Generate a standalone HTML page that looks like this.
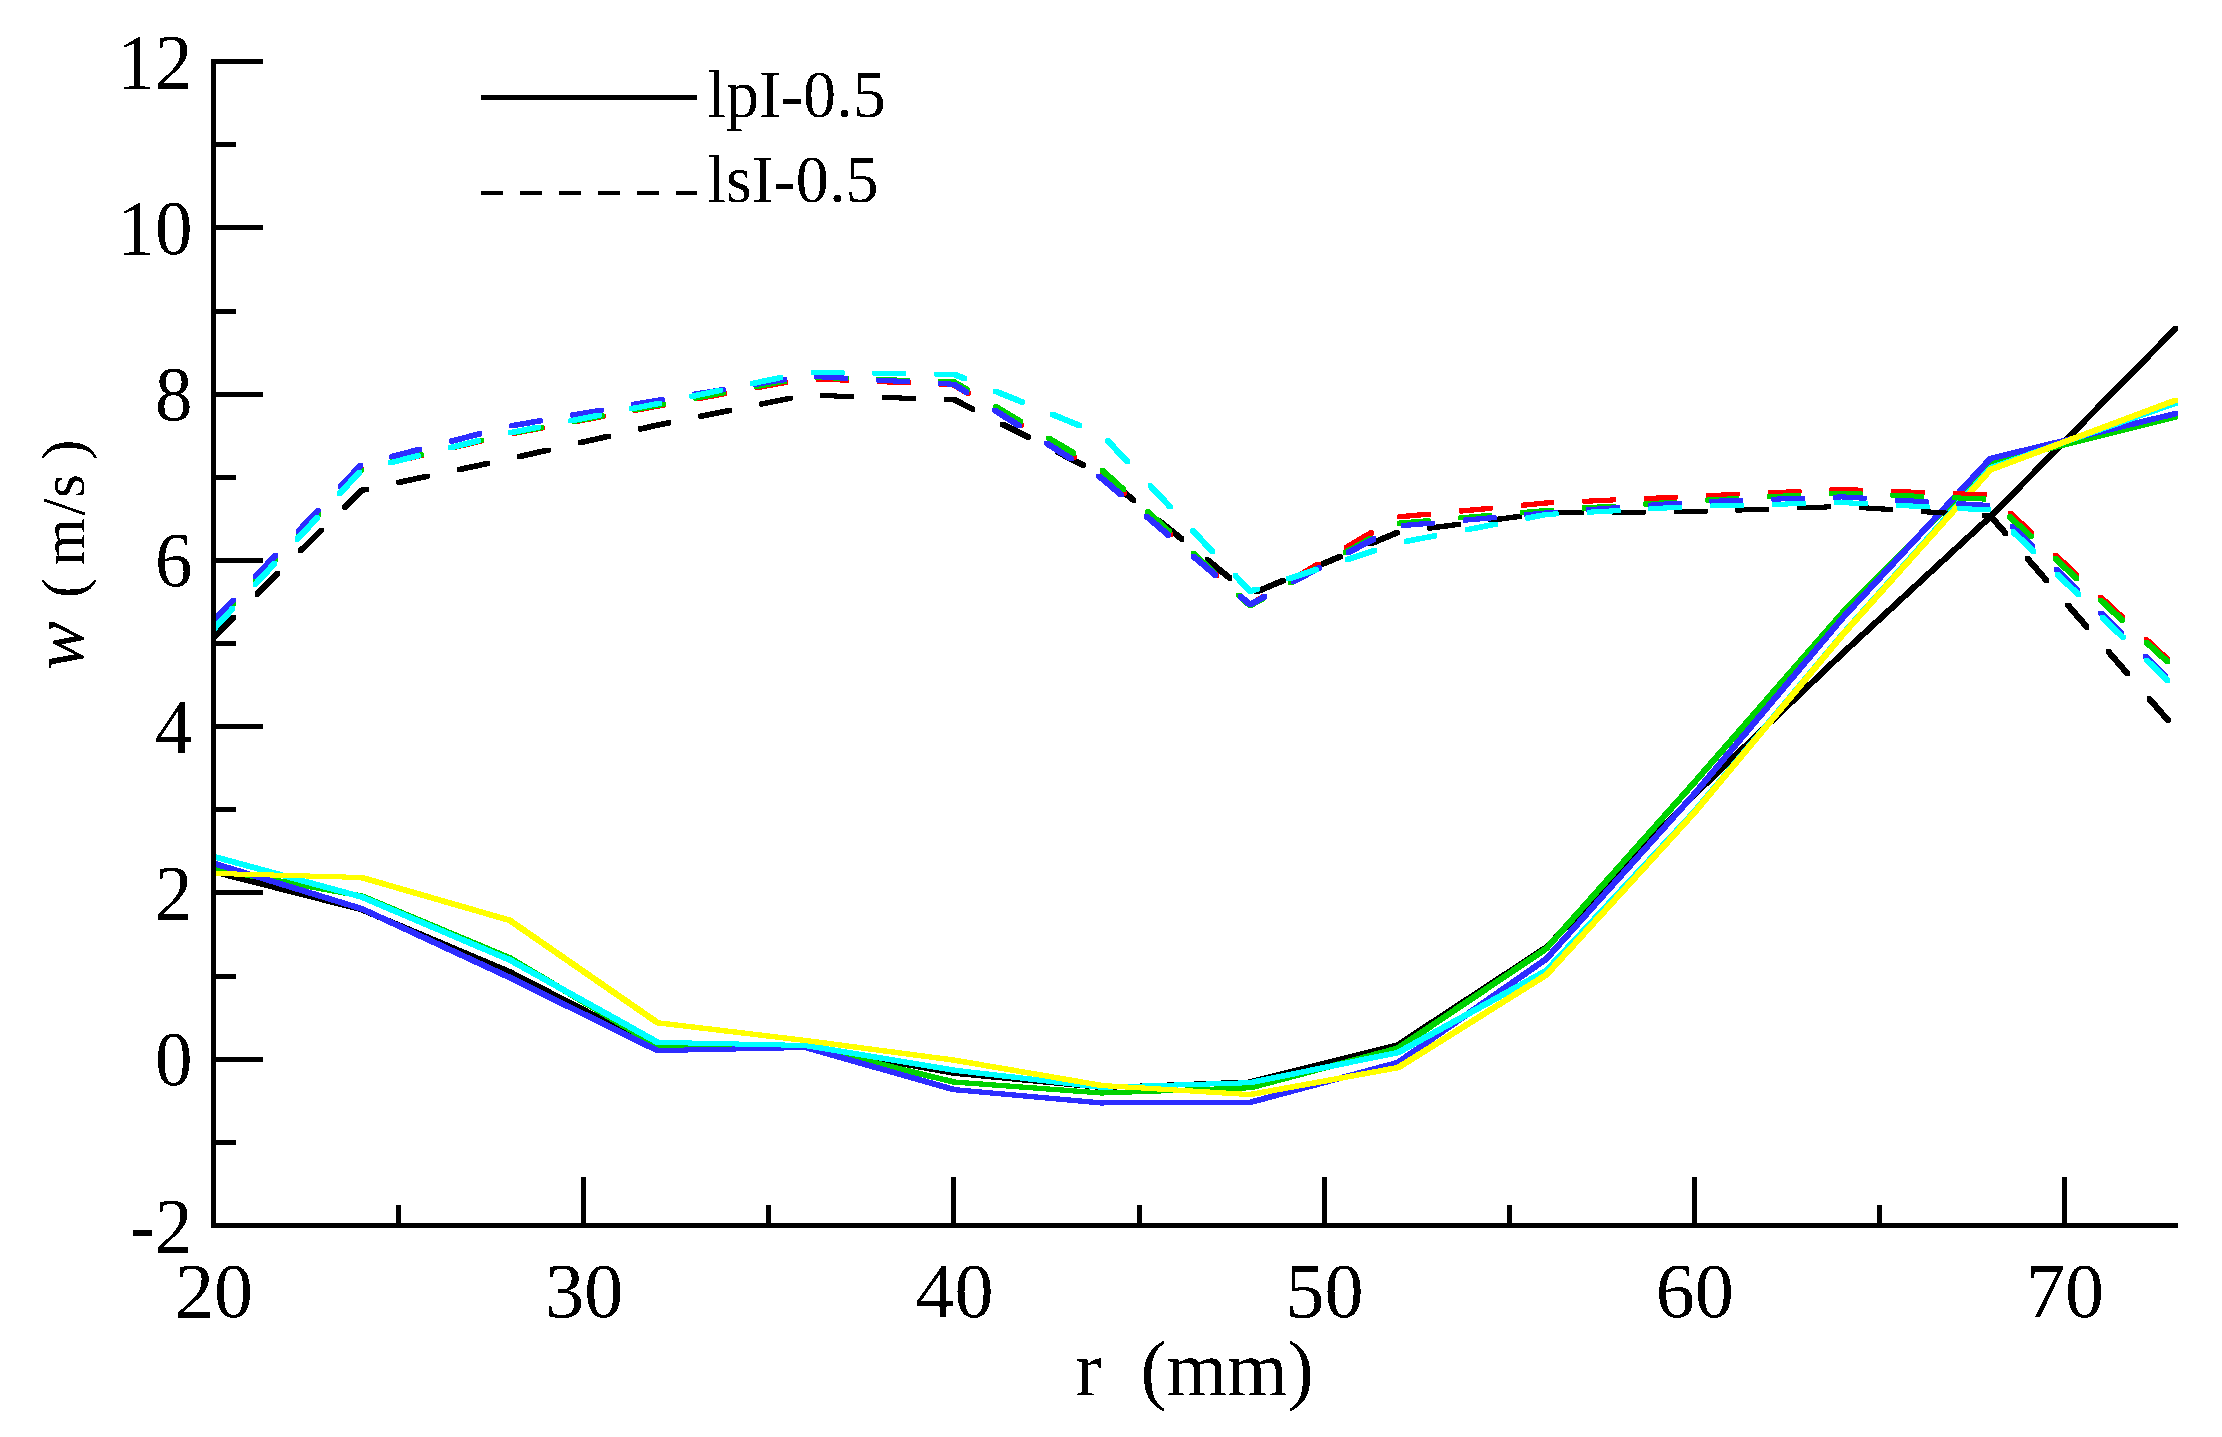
<!DOCTYPE html>
<html lang="en"><head><meta charset="utf-8"><title>w (m/s) vs r (mm)</title>
<style>html,body{margin:0;padding:0;background:#fff;}body{width:2222px;height:1437px;overflow:hidden;}svg{display:block;}text{font-family:"Liberation Serif",serif;fill:#000;}</style>
</head><body>
<svg width="2222" height="1437" viewBox="0 0 2222 1437">
<rect x="0" y="0" width="2222" height="1437" fill="#ffffff"/>
<defs><filter id="bw" x="-10%" y="-10%" width="120%" height="120%"><feComponentTransfer><feFuncA type="discrete" tableValues="0 1"/></feComponentTransfer></filter></defs>
<g stroke="none" shape-rendering="crispEdges">
<path fill="#000000" d="M211.0,869.8 211.6,869.2 215.4,869.2 363.5,907.0 364.1,907.6 364.1,911.4 363.5,912.0 359.7,912.0 211.6,874.2 211.0,873.6ZM359.1,907.6 359.7,907.0 363.5,907.0 511.6,969.5 512.2,970.1 512.2,973.9 511.6,974.5 507.8,974.5 359.7,912.0 359.1,911.4ZM507.2,970.1 507.8,969.5 511.6,969.5 659.6,1045.5 660.2,1046.1 660.2,1049.9 659.6,1050.5 655.8,1050.5 507.8,974.5 507.2,973.9ZM655.2,1046.1 655.8,1045.5 803.9,1043.5 807.7,1043.5 808.3,1044.1 808.3,1047.9 807.7,1048.5 659.6,1050.5 655.8,1050.5 655.2,1049.9ZM803.3,1044.1 803.9,1043.5 807.7,1043.5 955.8,1070.7 956.4,1071.3 956.4,1075.1 955.8,1075.7 952.0,1075.7 803.9,1048.5 803.3,1047.9ZM951.4,1071.3 952.0,1070.7 955.8,1070.7 1103.9,1085.0 1104.5,1085.6 1104.5,1089.4 1103.9,1090.0 1100.1,1090.0 952.0,1075.7 951.4,1075.1ZM1099.5,1085.6 1100.1,1085.0 1248.2,1079.5 1252.0,1079.5 1252.6,1080.1 1252.6,1083.9 1252.0,1084.5 1103.9,1090.0 1100.1,1090.0 1099.5,1089.4ZM1247.6,1080.1 1248.2,1079.5 1396.2,1042.4 1400.0,1042.4 1400.6,1043.0 1400.6,1046.8 1400.0,1047.4 1252.0,1084.5 1248.2,1084.5 1247.6,1083.9ZM1395.6,1043.0 1396.2,1042.4 1544.3,945.0 1548.1,945.0 1548.7,945.6 1548.7,949.4 1548.1,950.0 1400.0,1047.4 1396.2,1047.4 1395.6,1046.8ZM1543.7,945.6 1691.8,792.9 1692.4,792.3 1696.2,792.3 1696.8,792.9 1696.8,796.7 1548.7,949.4 1548.1,950.0 1544.3,950.0 1543.7,949.4ZM1691.8,792.9 1692.4,792.3 1840.5,651.0 1844.3,651.0 1844.9,651.6 1844.9,655.4 1844.3,656.0 1696.2,797.3 1692.4,797.3 1691.8,796.7ZM1839.9,651.6 1840.5,651.0 1988.6,514.1 1992.4,514.1 1993.0,514.7 1993.0,518.5 1992.4,519.1 1844.3,656.0 1840.5,656.0 1839.9,655.4ZM1988.0,514.7 2173.1,326.7 2173.7,326.1 2177.5,326.1 2178.1,326.7 2178.1,330.5 1993.0,518.5 1992.4,519.1 1988.6,519.1 1988.0,518.5Z"/>
<path fill="#ff0000" d="M211.0,867.1 211.6,866.5 215.4,866.5 363.5,893.5 364.1,894.1 364.1,897.9 363.5,898.5 359.7,898.5 211.6,871.5 211.0,870.9ZM359.1,894.1 359.7,893.5 363.5,893.5 511.6,955.5 512.2,956.1 512.2,959.9 511.6,960.5 507.8,960.5 359.7,898.5 359.1,897.9ZM507.2,956.1 507.8,955.5 511.6,955.5 659.6,1043.5 660.2,1044.1 660.2,1047.9 659.6,1048.5 655.8,1048.5 507.8,960.5 507.2,959.9ZM655.2,1044.1 655.8,1043.5 807.7,1043.5 808.3,1044.1 808.3,1047.9 807.7,1048.5 655.8,1048.5 655.2,1047.9ZM803.3,1044.1 803.9,1043.5 807.7,1043.5 955.8,1079.5 956.4,1080.1 956.4,1083.9 955.8,1084.5 952.0,1084.5 803.9,1048.5 803.3,1047.9ZM951.4,1080.1 952.0,1079.5 955.8,1079.5 1103.9,1090.5 1104.5,1091.1 1104.5,1094.9 1103.9,1095.5 1100.1,1095.5 952.0,1084.5 951.4,1083.9ZM1099.5,1091.1 1100.1,1090.5 1248.2,1085.3 1252.0,1085.3 1252.6,1085.9 1252.6,1089.7 1252.0,1090.3 1103.9,1095.5 1100.1,1095.5 1099.5,1094.9ZM1247.6,1085.9 1248.2,1085.3 1396.2,1045.7 1400.0,1045.7 1400.6,1046.3 1400.6,1050.1 1400.0,1050.7 1252.0,1090.3 1248.2,1090.3 1247.6,1089.7ZM1395.6,1046.3 1396.2,1045.7 1544.3,946.1 1548.1,946.1 1548.7,946.7 1548.7,950.5 1548.1,951.1 1400.0,1050.7 1396.2,1050.7 1395.6,1050.1ZM1543.7,946.7 1691.8,780.6 1692.4,780.0 1696.2,780.0 1696.8,780.6 1696.8,784.4 1548.7,950.5 1548.1,951.1 1544.3,951.1 1543.7,950.5ZM1691.8,780.6 1839.9,611.1 1840.5,610.5 1844.3,610.5 1844.9,611.1 1844.9,614.9 1696.8,784.4 1696.2,785.0 1692.4,785.0 1691.8,784.4ZM1839.9,611.1 1988.0,461.4 1988.6,460.8 1992.4,460.8 1993.0,461.4 1993.0,465.2 1844.9,614.9 1844.3,615.5 1840.5,615.5 1839.9,614.9ZM1988.0,461.4 1988.6,460.8 2173.7,414.3 2177.5,414.3 2178.1,414.9 2178.1,418.7 2177.5,419.3 1992.4,465.8 1988.6,465.8 1988.0,465.2Z"/>
<path fill="#00d200" d="M211.0,867.1 211.6,866.5 215.4,866.5 363.5,893.5 364.1,894.1 364.1,897.9 363.5,898.5 359.7,898.5 211.6,871.5 211.0,870.9ZM359.1,894.1 359.7,893.5 363.5,893.5 511.6,955.5 512.2,956.1 512.2,959.9 511.6,960.5 507.8,960.5 359.7,898.5 359.1,897.9ZM507.2,956.1 507.8,955.5 511.6,955.5 659.6,1043.5 660.2,1044.1 660.2,1047.9 659.6,1048.5 655.8,1048.5 507.8,960.5 507.2,959.9ZM655.2,1044.1 655.8,1043.5 807.7,1043.5 808.3,1044.1 808.3,1047.9 807.7,1048.5 655.8,1048.5 655.2,1047.9ZM803.3,1044.1 803.9,1043.5 807.7,1043.5 955.8,1079.5 956.4,1080.1 956.4,1083.9 955.8,1084.5 952.0,1084.5 803.9,1048.5 803.3,1047.9ZM951.4,1080.1 952.0,1079.5 955.8,1079.5 1103.9,1090.5 1104.5,1091.1 1104.5,1094.9 1103.9,1095.5 1100.1,1095.5 952.0,1084.5 951.4,1083.9ZM1099.5,1091.1 1100.1,1090.5 1248.2,1085.3 1252.0,1085.3 1252.6,1085.9 1252.6,1089.7 1252.0,1090.3 1103.9,1095.5 1100.1,1095.5 1099.5,1094.9ZM1247.6,1085.9 1248.2,1085.3 1396.2,1045.7 1400.0,1045.7 1400.6,1046.3 1400.6,1050.1 1400.0,1050.7 1252.0,1090.3 1248.2,1090.3 1247.6,1089.7ZM1395.6,1046.3 1396.2,1045.7 1544.3,946.1 1548.1,946.1 1548.7,946.7 1548.7,950.5 1548.1,951.1 1400.0,1050.7 1396.2,1050.7 1395.6,1050.1ZM1543.7,946.7 1691.8,780.6 1692.4,780.0 1696.2,780.0 1696.8,780.6 1696.8,784.4 1548.7,950.5 1548.1,951.1 1544.3,951.1 1543.7,950.5ZM1691.8,780.6 1839.9,611.1 1840.5,610.5 1844.3,610.5 1844.9,611.1 1844.9,614.9 1696.8,784.4 1696.2,785.0 1692.4,785.0 1691.8,784.4ZM1839.9,611.1 1988.0,461.4 1988.6,460.8 1992.4,460.8 1993.0,461.4 1993.0,465.2 1844.9,614.9 1844.3,615.5 1840.5,615.5 1839.9,614.9ZM1988.0,461.4 1988.6,460.8 2173.7,414.3 2177.5,414.3 2178.1,414.9 2178.1,418.7 2177.5,419.3 1992.4,465.8 1988.6,465.8 1988.0,465.2Z"/>
<path fill="#2d2dff" d="M211.0,861.4 211.6,860.8 215.4,860.8 363.5,906.2 364.1,906.8 364.1,910.6 363.5,911.2 359.7,911.2 211.6,865.8 211.0,865.2ZM359.1,906.8 359.7,906.2 363.5,906.2 511.6,975.0 512.2,975.6 512.2,979.4 511.6,980.0 507.8,980.0 359.7,911.2 359.1,910.6ZM507.2,975.6 507.8,975.0 511.6,975.0 659.6,1048.1 660.2,1048.7 660.2,1052.5 659.6,1053.1 655.8,1053.1 507.8,980.0 507.2,979.4ZM655.2,1048.7 655.8,1048.1 803.9,1045.0 807.7,1045.0 808.3,1045.6 808.3,1049.4 807.7,1050.0 659.6,1053.1 655.8,1053.1 655.2,1052.5ZM803.3,1045.6 803.9,1045.0 807.7,1045.0 955.8,1087.1 956.4,1087.7 956.4,1091.5 955.8,1092.1 952.0,1092.1 803.9,1050.0 803.3,1049.4ZM951.4,1087.7 952.0,1087.1 955.8,1087.1 1103.9,1100.5 1104.5,1101.1 1104.5,1104.9 1103.9,1105.5 1100.1,1105.5 952.0,1092.1 951.4,1091.5ZM1099.5,1101.1 1100.1,1100.5 1248.2,1099.9 1252.0,1099.9 1252.6,1100.5 1252.6,1104.3 1252.0,1104.9 1103.9,1105.5 1100.1,1105.5 1099.5,1104.9ZM1247.6,1100.5 1248.2,1099.9 1396.2,1060.0 1400.0,1060.0 1400.6,1060.6 1400.6,1064.4 1400.0,1065.0 1252.0,1104.9 1248.2,1104.9 1247.6,1104.3ZM1395.6,1060.6 1396.2,1060.0 1544.3,956.5 1548.1,956.5 1548.7,957.1 1548.7,960.9 1548.1,961.5 1400.0,1065.0 1396.2,1065.0 1395.6,1064.4ZM1543.7,957.1 1691.8,792.1 1692.4,791.5 1696.2,791.5 1696.8,792.1 1696.8,795.9 1548.7,960.9 1548.1,961.5 1544.3,961.5 1543.7,960.9ZM1691.8,792.1 1839.9,616.3 1840.5,615.7 1844.3,615.7 1844.9,616.3 1844.9,620.1 1696.8,795.9 1696.2,796.5 1692.4,796.5 1691.8,795.9ZM1839.9,616.3 1988.0,456.6 1988.6,456.0 1992.4,456.0 1993.0,456.6 1993.0,460.4 1844.9,620.1 1844.3,620.7 1840.5,620.7 1839.9,620.1ZM1988.0,456.6 1988.6,456.0 2173.7,411.1 2177.5,411.1 2178.1,411.7 2178.1,415.5 2177.5,416.1 1992.4,461.0 1988.6,461.0 1988.0,460.4Z"/>
<path fill="#000000" d="M211.0,635.5 211.6,634.9 231.7,614.9 235.5,614.9 236.1,615.5 236.1,619.3 235.5,619.9 215.4,639.9 211.6,639.9 211.0,639.3ZM254.5,592.3 255.1,591.7 275.6,571.3 279.4,571.3 280.0,571.9 280.0,575.7 279.4,576.3 258.9,596.7 255.1,596.7 254.5,596.1ZM298.3,548.7 298.9,548.1 319.5,527.7 323.3,527.7 323.9,528.3 323.9,532.1 323.3,532.7 302.7,553.1 298.9,553.1 298.3,552.5ZM342.2,505.2 342.8,504.6 359.7,487.8 363.5,487.8 364.1,488.4 364.1,492.2 363.5,492.8 346.6,509.6 342.8,509.6 342.2,509.0ZM359.1,488.4 359.7,487.8 364.8,486.7 368.6,486.7 369.2,487.3 369.2,491.1 368.6,491.7 363.5,492.8 359.7,492.8 359.1,492.2ZM396.3,480.5 396.9,479.9 425.3,473.8 429.1,473.8 429.7,474.4 429.7,478.2 429.1,478.8 400.7,484.9 396.9,484.9 396.3,484.3ZM456.8,467.6 457.4,467.0 485.8,461.0 489.6,461.0 490.2,461.6 490.2,465.4 489.6,466.0 461.2,472.0 457.4,472.0 456.8,471.4ZM517.3,454.6 517.9,454.0 546.2,447.5 550.0,447.5 550.6,448.1 550.6,451.9 550.0,452.5 521.7,459.0 517.9,459.0 517.3,458.4ZM577.6,440.8 578.2,440.2 606.5,433.8 610.3,433.8 610.9,434.4 610.9,438.2 610.3,438.8 582.0,445.2 578.2,445.2 577.6,444.6ZM637.9,427.1 638.5,426.5 655.8,422.5 659.6,422.5 660.2,423.1 660.2,426.9 659.6,427.5 642.3,431.5 638.5,431.5 637.9,430.9ZM655.2,423.1 655.8,422.5 666.8,420.3 670.6,420.3 671.2,420.9 671.2,424.7 670.6,425.3 659.6,427.5 655.8,427.5 655.2,426.9ZM698.4,414.4 699.0,413.8 727.4,408.0 731.2,408.0 731.8,408.6 731.8,412.4 731.2,413.0 702.8,418.8 699.0,418.8 698.4,418.2ZM759.0,402.1 759.6,401.5 788.1,395.8 791.9,395.8 792.5,396.4 792.5,400.2 791.9,400.8 763.4,406.5 759.6,406.5 759.0,405.9ZM820.0,393.7 820.6,393.1 824.4,393.1 853.4,394.0 854.0,394.6 854.0,398.4 853.4,399.0 849.6,399.0 820.6,398.1 820.0,397.5ZM881.8,395.6 882.4,395.0 886.2,395.0 915.2,395.9 915.8,396.5 915.8,400.3 915.2,400.9 911.4,400.9 882.4,400.0 881.8,399.4ZM943.6,397.5 944.2,396.9 948.0,396.9 955.8,397.1 956.4,397.7 956.4,401.5 955.8,402.1 952.0,402.1 944.2,401.9 943.6,401.3ZM951.4,397.7 952.0,397.1 955.8,397.1 974.7,406.7 975.3,407.3 975.3,411.1 974.7,411.7 970.9,411.7 952.0,402.1 951.4,401.5ZM999.7,422.1 1000.3,421.5 1004.1,421.5 1029.9,434.6 1030.5,435.2 1030.5,439.0 1029.9,439.6 1026.1,439.6 1000.3,426.5 999.7,425.9ZM1054.8,450.0 1055.4,449.4 1059.2,449.4 1085.1,462.5 1085.7,463.1 1085.7,466.9 1085.1,467.5 1081.3,467.5 1055.4,454.4 1054.8,453.8ZM1108.7,480.0 1109.3,479.4 1113.1,479.4 1135.6,497.7 1136.2,498.3 1136.2,502.1 1135.6,502.7 1131.8,502.7 1109.3,484.4 1108.7,483.8ZM1156.7,519.0 1157.3,518.4 1161.1,518.4 1183.7,536.6 1184.3,537.2 1184.3,541.0 1183.7,541.6 1179.9,541.6 1157.3,523.4 1156.7,522.8ZM1204.8,557.9 1205.4,557.3 1209.2,557.3 1231.7,575.6 1232.3,576.2 1232.3,580.0 1231.7,580.6 1227.9,580.6 1205.4,562.3 1204.8,561.7ZM1253.8,590.0 1254.4,589.4 1281.1,578.1 1284.9,578.1 1285.5,578.7 1285.5,582.5 1284.9,583.1 1258.2,594.4 1254.4,594.4 1253.8,593.8ZM1310.8,566.0 1311.4,565.4 1338.2,554.1 1342.0,554.1 1342.6,554.7 1342.6,558.5 1342.0,559.1 1315.2,570.4 1311.4,570.4 1310.8,569.8ZM1367.8,542.0 1368.4,541.4 1395.2,530.2 1399.0,530.2 1399.6,530.8 1399.6,534.6 1399.0,535.2 1372.2,546.4 1368.4,546.4 1367.8,545.8ZM1427.1,526.2 1427.7,525.6 1456.4,521.9 1460.2,521.9 1460.8,522.5 1460.8,526.3 1460.2,526.9 1431.5,530.6 1427.7,530.6 1427.1,530.0ZM1488.4,518.3 1489.0,517.7 1517.8,513.9 1521.6,513.9 1522.2,514.5 1522.2,518.3 1521.6,518.9 1492.8,522.7 1489.0,522.7 1488.4,522.1ZM1549.8,511.0 1550.4,510.4 1579.4,510.2 1583.2,510.2 1583.8,510.8 1583.8,514.6 1583.2,515.2 1554.2,515.4 1550.4,515.4 1549.8,514.8ZM1611.6,510.5 1612.2,509.9 1641.2,509.6 1645.0,509.6 1645.6,510.2 1645.6,514.0 1645.0,514.6 1616.0,514.9 1612.2,514.9 1611.6,514.3ZM1673.5,509.9 1674.1,509.3 1692.4,509.1 1696.2,509.1 1696.8,509.7 1696.8,513.5 1696.2,514.1 1677.9,514.3 1674.1,514.3 1673.5,513.7ZM1691.8,509.7 1692.4,509.1 1703.1,508.7 1706.9,508.7 1707.5,509.3 1707.5,513.1 1706.9,513.7 1696.2,514.1 1692.4,514.1 1691.8,513.5ZM1735.3,508.2 1735.9,507.6 1764.9,506.6 1768.7,506.6 1769.3,507.2 1769.3,511.0 1768.7,511.6 1739.7,512.6 1735.9,512.6 1735.3,512.0ZM1797.1,506.0 1797.7,505.4 1826.7,504.4 1830.5,504.4 1831.1,505.0 1831.1,508.8 1830.5,509.4 1801.5,510.4 1797.7,510.4 1797.1,509.8ZM1858.9,505.7 1859.5,505.1 1863.3,505.1 1892.2,507.0 1892.8,507.6 1892.8,511.4 1892.2,512.0 1888.4,512.0 1859.5,510.1 1858.9,509.5ZM1920.6,509.7 1921.2,509.1 1925.0,509.1 1954.0,511.0 1954.6,511.6 1954.6,515.4 1954.0,516.0 1950.2,516.0 1921.2,514.1 1920.6,513.5ZM1982.3,513.7 1982.9,513.1 1986.7,513.1 1992.4,513.5 1993.0,514.1 1993.0,517.9 1992.4,518.5 1988.6,518.5 1982.9,518.1 1982.3,517.5ZM1988.0,514.1 1988.6,513.5 1992.4,513.5 1993.0,514.1 2008.3,531.7 2008.3,535.5 2007.7,536.1 2003.9,536.1 2003.3,535.5 1988.0,517.9ZM2024.8,556.5 2025.4,555.9 2029.2,555.9 2029.8,556.5 2048.9,578.4 2048.9,582.2 2048.3,582.8 2044.5,582.8 2043.9,582.2 2024.8,560.3ZM2065.4,603.2 2066.0,602.6 2069.8,602.6 2070.4,603.2 2089.4,625.1 2089.4,628.9 2088.8,629.5 2085.0,629.5 2084.4,628.9 2065.4,607.0ZM2106.0,649.9 2106.6,649.3 2110.4,649.3 2111.0,649.9 2130.0,671.8 2130.0,675.6 2129.4,676.2 2125.6,676.2 2125.0,675.6 2106.0,653.7ZM2146.5,696.6 2147.1,696.0 2150.9,696.0 2151.5,696.6 2170.6,718.5 2170.6,722.3 2170.0,722.9 2166.2,722.9 2165.6,722.3 2146.5,700.4Z"/>
<path fill="#00ffff" d="M211.0,854.6 211.6,854.0 215.4,854.0 363.5,894.4 364.1,895.0 364.1,898.8 363.5,899.4 359.7,899.4 211.6,859.0 211.0,858.4ZM359.1,895.0 359.7,894.4 363.5,894.4 511.6,957.4 512.2,958.0 512.2,961.8 511.6,962.4 507.8,962.4 359.7,899.4 359.1,898.8ZM507.2,958.0 507.8,957.4 511.6,957.4 659.6,1039.8 660.2,1040.4 660.2,1044.2 659.6,1044.8 655.8,1044.8 507.8,962.4 507.2,961.8ZM655.2,1040.4 655.8,1039.8 659.6,1039.8 807.7,1043.0 808.3,1043.6 808.3,1047.4 807.7,1048.0 803.9,1048.0 655.8,1044.8 655.2,1044.2ZM803.3,1043.6 803.9,1043.0 807.7,1043.0 955.8,1067.7 956.4,1068.3 956.4,1072.1 955.8,1072.7 952.0,1072.7 803.9,1048.0 803.3,1047.4ZM951.4,1068.3 952.0,1067.7 955.8,1067.7 1103.9,1084.8 1104.5,1085.4 1104.5,1089.2 1103.9,1089.8 1100.1,1089.8 952.0,1072.7 951.4,1072.1ZM1099.5,1085.4 1100.1,1084.8 1248.2,1080.2 1252.0,1080.2 1252.6,1080.8 1252.6,1084.6 1252.0,1085.2 1103.9,1089.8 1100.1,1089.8 1099.5,1089.2ZM1247.6,1080.8 1248.2,1080.2 1396.2,1050.0 1400.0,1050.0 1400.6,1050.6 1400.6,1054.4 1400.0,1055.0 1252.0,1085.2 1248.2,1085.2 1247.6,1084.6ZM1395.6,1050.6 1396.2,1050.0 1544.3,968.3 1548.1,968.3 1548.7,968.9 1548.7,972.7 1548.1,973.3 1400.0,1055.0 1396.2,1055.0 1395.6,1054.4ZM1543.7,968.9 1691.8,809.9 1692.4,809.3 1696.2,809.3 1696.8,809.9 1696.8,813.7 1548.7,972.7 1548.1,973.3 1544.3,973.3 1543.7,972.7ZM1691.8,809.9 1839.9,632.6 1840.5,632.0 1844.3,632.0 1844.9,632.6 1844.9,636.4 1696.8,813.7 1696.2,814.3 1692.4,814.3 1691.8,813.7ZM1839.9,632.6 1988.0,466.1 1988.6,465.5 1992.4,465.5 1993.0,466.1 1993.0,469.9 1844.9,636.4 1844.3,637.0 1840.5,637.0 1839.9,636.4ZM1988.0,466.1 1988.6,465.5 2173.7,400.5 2177.5,400.5 2178.1,401.1 2178.1,404.9 2177.5,405.5 1992.4,470.5 1988.6,470.5 1988.0,469.9Z"/>
<path fill="#ffff00" d="M211.0,871.5 211.6,870.9 215.4,870.9 363.5,875.0 364.1,875.6 364.1,879.4 363.5,880.0 359.7,880.0 211.6,875.9 211.0,875.3ZM359.1,875.6 359.7,875.0 363.5,875.0 511.6,917.8 512.2,918.4 512.2,922.2 511.6,922.8 507.8,922.8 359.7,880.0 359.1,879.4ZM507.2,918.4 507.8,917.8 511.6,917.8 659.6,1020.3 660.2,1020.9 660.2,1024.7 659.6,1025.3 655.8,1025.3 507.8,922.8 507.2,922.2ZM655.2,1020.9 655.8,1020.3 659.6,1020.3 807.7,1038.0 808.3,1038.6 808.3,1042.4 807.7,1043.0 803.9,1043.0 655.8,1025.3 655.2,1024.7ZM803.3,1038.6 803.9,1038.0 807.7,1038.0 955.8,1057.6 956.4,1058.2 956.4,1062.0 955.8,1062.6 952.0,1062.6 803.9,1043.0 803.3,1042.4ZM951.4,1058.2 952.0,1057.6 955.8,1057.6 1103.9,1083.0 1104.5,1083.6 1104.5,1087.4 1103.9,1088.0 1100.1,1088.0 952.0,1062.6 951.4,1062.0ZM1099.5,1083.6 1100.1,1083.0 1103.9,1083.0 1252.0,1092.1 1252.6,1092.7 1252.6,1096.5 1252.0,1097.1 1248.2,1097.1 1100.1,1088.0 1099.5,1087.4ZM1247.6,1092.7 1248.2,1092.1 1396.2,1065.1 1400.0,1065.1 1400.6,1065.7 1400.6,1069.5 1400.0,1070.1 1252.0,1097.1 1248.2,1097.1 1247.6,1096.5ZM1395.6,1065.7 1396.2,1065.1 1544.3,972.5 1548.1,972.5 1548.7,973.1 1548.7,976.9 1548.1,977.5 1400.0,1070.1 1396.2,1070.1 1395.6,1069.5ZM1543.7,973.1 1691.8,810.8 1692.4,810.2 1696.2,810.2 1696.8,810.8 1696.8,814.6 1548.7,976.9 1548.1,977.5 1544.3,977.5 1543.7,976.9ZM1691.8,810.8 1839.9,633.1 1840.5,632.5 1844.3,632.5 1844.9,633.1 1844.9,636.9 1696.8,814.6 1696.2,815.2 1692.4,815.2 1691.8,814.6ZM1839.9,633.1 1988.0,467.8 1988.6,467.2 1992.4,467.2 1993.0,467.8 1993.0,471.6 1844.9,636.9 1844.3,637.5 1840.5,637.5 1839.9,636.9ZM1988.0,467.8 1988.6,467.2 2173.7,397.7 2177.5,397.7 2178.1,398.3 2178.1,402.1 2177.5,402.7 1992.4,472.2 1988.6,472.2 1988.0,471.6Z"/>
<path fill="#ff0000" d="M211.0,622.1 230.7,601.6 231.3,601.0 235.1,601.0 235.7,601.6 235.7,605.4 216.0,625.9 215.4,626.5 211.6,626.5 211.0,625.9ZM253.4,577.9 273.4,556.9 274.0,556.3 277.8,556.3 278.4,556.9 278.4,560.7 258.4,581.7 257.8,582.3 254.0,582.3 253.4,581.7ZM296.2,533.2 316.2,512.3 316.8,511.7 320.6,511.7 321.2,512.3 321.2,516.1 301.2,537.0 300.6,537.6 296.8,537.6 296.2,537.0ZM339.0,488.6 359.0,467.6 359.6,467.0 363.4,467.0 364.0,467.6 364.0,471.4 344.0,492.4 343.4,493.0 339.6,493.0 339.0,492.4ZM391.0,460.0 391.6,459.4 419.8,452.6 423.6,452.6 424.2,453.2 424.2,457.0 423.6,457.6 395.4,464.4 391.6,464.4 391.0,463.8ZM451.1,445.5 451.7,444.9 479.9,438.2 483.7,438.2 484.3,438.8 484.3,442.6 483.7,443.2 455.5,449.9 451.7,449.9 451.1,449.3ZM511.3,431.3 511.9,430.7 540.4,425.3 544.2,425.3 544.8,425.9 544.8,429.7 544.2,430.3 515.7,435.7 511.9,435.7 511.3,435.1ZM572.1,419.8 572.7,419.2 601.2,413.8 605.0,413.8 605.6,414.4 605.6,418.2 605.0,418.8 576.5,424.2 572.7,424.2 572.1,423.6ZM632.9,408.3 633.5,407.7 655.8,403.5 659.6,403.5 660.2,404.1 660.2,407.9 659.6,408.5 637.3,412.7 633.5,412.7 632.9,412.1ZM655.2,404.1 655.8,403.5 662.0,402.4 665.8,402.4 666.4,403.0 666.4,406.8 665.8,407.4 659.6,408.5 655.8,408.5 655.2,407.9ZM693.6,397.0 694.2,396.4 722.8,391.1 726.6,391.1 727.2,391.7 727.2,395.5 726.6,396.1 698.0,401.4 694.2,401.4 693.6,400.8ZM754.5,385.7 755.1,385.1 783.6,379.8 787.4,379.8 788.0,380.4 788.0,384.2 787.4,384.8 758.9,390.1 755.1,390.1 754.5,389.5ZM815.5,377.1 816.1,376.5 819.9,376.5 848.8,377.7 849.4,378.3 849.4,382.1 848.8,382.7 845.0,382.7 816.1,381.5 815.5,380.9ZM877.3,379.7 877.9,379.1 881.7,379.1 910.6,380.4 911.2,381.0 911.2,384.8 910.6,385.4 906.8,385.4 877.9,384.1 877.3,383.5ZM939.1,382.4 939.7,381.8 943.5,381.8 955.8,382.3 956.4,382.9 956.4,386.7 955.8,387.3 952.0,387.3 939.7,386.8 939.1,386.2ZM951.4,382.9 952.0,382.3 955.8,382.3 970.1,390.9 970.7,391.5 970.7,395.3 970.1,395.9 966.3,395.9 952.0,387.3 951.4,386.7ZM993.8,408.4 994.4,407.8 998.2,407.8 1023.0,422.8 1023.6,423.4 1023.6,427.2 1023.0,427.8 1019.2,427.8 994.4,412.8 993.8,412.2ZM1046.8,440.4 1047.4,439.8 1051.2,439.8 1076.0,454.7 1076.6,455.3 1076.6,459.1 1076.0,459.7 1072.2,459.7 1047.4,444.8 1046.8,444.2ZM1099.7,472.3 1100.3,471.7 1104.1,471.7 1125.9,490.9 1126.5,491.5 1126.5,495.3 1125.9,495.9 1122.1,495.9 1100.3,476.7 1099.7,476.1ZM1146.1,513.3 1146.7,512.7 1150.5,512.7 1172.2,531.9 1172.8,532.5 1172.8,536.3 1172.2,536.9 1168.4,536.9 1146.7,517.7 1146.1,517.1ZM1192.4,554.2 1193.0,553.6 1196.8,553.6 1218.6,572.8 1219.2,573.4 1219.2,577.2 1218.6,577.8 1214.8,577.8 1193.0,558.6 1192.4,558.0ZM1238.8,595.1 1239.4,594.5 1243.2,594.5 1252.0,602.3 1252.6,602.9 1252.6,606.7 1252.0,607.3 1248.2,607.3 1239.4,599.5 1238.8,598.9ZM1247.6,602.9 1248.2,602.3 1263.0,593.5 1266.8,593.5 1267.4,594.1 1267.4,597.9 1266.8,598.5 1252.0,607.3 1248.2,607.3 1247.6,606.7ZM1290.7,577.3 1291.3,576.7 1316.2,561.9 1320.0,561.9 1320.6,562.5 1320.6,566.3 1320.0,566.9 1295.1,581.7 1291.3,581.7 1290.7,581.1ZM1343.9,545.8 1344.5,545.2 1369.4,530.4 1373.2,530.4 1373.8,531.0 1373.8,534.8 1373.2,535.4 1348.3,550.2 1344.5,550.2 1343.9,549.6ZM1397.3,514.9 1397.9,514.3 1426.8,511.6 1430.6,511.6 1431.2,512.2 1431.2,516.0 1430.6,516.6 1401.7,519.3 1397.9,519.3 1397.3,518.7ZM1458.9,509.1 1459.5,508.5 1488.4,505.8 1492.2,505.8 1492.8,506.4 1492.8,510.2 1492.2,510.8 1463.3,513.5 1459.5,513.5 1458.9,512.9ZM1520.5,503.3 1521.1,502.7 1544.3,500.5 1548.1,500.5 1548.7,501.1 1548.7,504.9 1548.1,505.5 1524.9,507.7 1521.1,507.7 1520.5,507.1ZM1543.7,501.1 1544.3,500.5 1550.0,500.2 1553.8,500.2 1554.4,500.8 1554.4,504.6 1553.8,505.2 1548.1,505.5 1544.3,505.5 1543.7,504.9ZM1582.2,499.4 1582.8,498.8 1611.8,497.4 1615.6,497.4 1616.2,498.0 1616.2,501.8 1615.6,502.4 1586.6,503.8 1582.8,503.8 1582.2,503.2ZM1644.0,496.6 1644.6,496.0 1673.5,494.7 1677.3,494.7 1677.9,495.3 1677.9,499.1 1677.3,499.7 1648.4,501.0 1644.6,501.0 1644.0,500.4ZM1705.8,493.8 1706.4,493.2 1735.3,491.8 1739.1,491.8 1739.7,492.4 1739.7,496.2 1739.1,496.8 1710.2,498.2 1706.4,498.2 1705.8,497.6ZM1767.5,490.9 1768.1,490.3 1797.1,489.0 1800.9,489.0 1801.5,489.6 1801.5,493.4 1800.9,494.0 1771.9,495.3 1768.1,495.3 1767.5,494.7ZM1829.3,488.1 1829.9,487.5 1840.5,487.0 1844.3,487.0 1844.9,487.6 1844.9,491.4 1844.3,492.0 1833.7,492.5 1829.9,492.5 1829.3,491.9ZM1839.9,487.6 1840.5,487.0 1844.3,487.0 1862.7,487.7 1863.3,488.3 1863.3,492.1 1862.7,492.7 1858.9,492.7 1840.5,492.0 1839.9,491.4ZM1891.1,489.5 1891.7,488.9 1895.5,488.9 1924.5,490.0 1925.1,490.6 1925.1,494.4 1924.5,495.0 1920.7,495.0 1891.7,493.9 1891.1,493.3ZM1952.9,491.8 1953.5,491.2 1957.3,491.2 1986.3,492.3 1986.9,492.9 1986.9,496.7 1986.3,497.3 1982.5,497.3 1953.5,496.2 1952.9,495.6ZM2007.6,511.3 2008.2,510.7 2012.0,510.7 2033.2,530.5 2033.8,531.1 2033.8,534.9 2033.2,535.5 2029.4,535.5 2008.2,515.7 2007.6,515.1ZM2052.9,553.4 2053.5,552.8 2057.3,552.8 2078.5,572.6 2079.1,573.2 2079.1,577.0 2078.5,577.6 2074.7,577.6 2053.5,557.8 2052.9,557.2ZM2098.2,595.5 2098.8,594.9 2102.6,594.9 2123.9,614.7 2124.5,615.3 2124.5,619.1 2123.9,619.7 2120.1,619.7 2098.8,599.9 2098.2,599.3ZM2143.5,637.6 2144.1,637.0 2147.9,637.0 2169.2,656.8 2169.8,657.4 2169.8,661.2 2169.2,661.8 2165.4,661.8 2144.1,642.0 2143.5,641.4Z"/>
<path fill="#00d200" d="M211.0,622.6 230.6,602.0 231.2,601.4 235.0,601.4 235.6,602.0 235.6,605.8 216.0,626.4 215.4,627.0 211.6,627.0 211.0,626.4ZM253.2,578.2 273.2,557.2 273.8,556.6 277.6,556.6 278.2,557.2 278.2,561.0 258.2,582.0 257.6,582.6 253.8,582.6 253.2,582.0ZM295.9,533.5 315.9,512.5 316.5,511.9 320.3,511.9 320.9,512.5 320.9,516.3 300.9,537.3 300.3,537.9 296.5,537.9 295.9,537.3ZM338.5,488.7 358.5,467.7 359.1,467.1 362.9,467.1 363.5,467.7 363.5,471.5 343.5,492.5 342.9,493.1 339.1,493.1 338.5,492.5ZM390.3,459.6 390.9,459.0 419.1,452.3 422.9,452.3 423.5,452.9 423.5,456.7 422.9,457.3 394.7,464.0 390.9,464.0 390.3,463.4ZM450.4,445.3 451.0,444.7 479.2,437.9 483.0,437.9 483.6,438.5 483.6,442.3 483.0,442.9 454.8,449.7 451.0,449.7 450.4,449.1ZM510.6,431.0 511.2,430.4 539.7,425.0 543.5,425.0 544.1,425.6 544.1,429.4 543.5,430.0 515.0,435.4 511.2,435.4 510.6,434.8ZM571.4,419.4 572.0,418.8 600.4,413.3 604.2,413.3 604.8,413.9 604.8,417.7 604.2,418.3 575.8,423.8 572.0,423.8 571.4,423.2ZM632.1,407.7 632.7,407.1 655.8,402.7 659.6,402.7 660.2,403.3 660.2,407.1 659.6,407.7 636.5,412.1 632.7,412.1 632.1,411.5ZM655.2,403.3 655.8,402.7 661.2,401.7 665.0,401.7 665.6,402.3 665.6,406.1 665.0,406.7 659.6,407.7 655.8,407.7 655.2,407.1ZM692.9,396.1 693.5,395.5 721.9,390.1 725.7,390.1 726.3,390.7 726.3,394.5 725.7,395.1 697.3,400.5 693.5,400.5 692.9,399.9ZM753.6,384.6 754.2,384.0 782.7,378.5 786.5,378.5 787.1,379.1 787.1,382.9 786.5,383.5 758.0,389.0 754.2,389.0 753.6,388.4ZM814.6,375.5 815.2,374.9 819.0,374.9 847.9,375.9 848.5,376.5 848.5,380.3 847.9,380.9 844.1,380.9 815.2,379.9 814.6,379.3ZM876.4,377.6 877.0,377.0 880.8,377.0 909.8,377.9 910.4,378.5 910.4,382.3 909.8,382.9 906.0,382.9 877.0,382.0 876.4,381.4ZM938.2,379.7 938.8,379.1 942.6,379.1 955.8,379.5 956.4,380.1 956.4,383.9 955.8,384.5 952.0,384.5 938.8,384.1 938.2,383.5ZM951.4,380.1 952.0,379.5 955.8,379.5 969.4,387.6 970.0,388.2 970.0,392.0 969.4,392.6 965.6,392.6 952.0,384.5 951.4,383.9ZM993.2,404.9 993.8,404.3 997.6,404.3 1022.5,419.2 1023.1,419.8 1023.1,423.6 1022.5,424.2 1018.7,424.2 993.8,409.3 993.2,408.7ZM1046.4,436.5 1047.0,435.9 1050.8,435.9 1075.7,450.8 1076.3,451.4 1076.3,455.2 1075.7,455.8 1071.9,455.8 1047.0,440.9 1046.4,440.3ZM1099.5,468.2 1100.1,467.6 1103.9,467.6 1125.3,487.1 1125.9,487.7 1125.9,491.5 1125.3,492.1 1121.5,492.1 1100.1,472.6 1099.5,472.0ZM1145.2,509.9 1145.8,509.3 1149.6,509.3 1171.0,528.9 1171.6,529.5 1171.6,533.3 1171.0,533.9 1167.2,533.9 1145.8,514.3 1145.2,513.7ZM1190.8,551.7 1191.4,551.1 1195.2,551.1 1216.6,570.6 1217.2,571.2 1217.2,575.0 1216.6,575.6 1212.8,575.6 1191.4,556.1 1190.8,555.5ZM1236.4,593.4 1237.0,592.8 1240.8,592.8 1252.0,603.0 1252.6,603.6 1252.6,607.4 1252.0,608.0 1248.2,608.0 1237.0,597.8 1236.4,597.2ZM1247.6,603.6 1248.2,603.0 1260.3,596.2 1264.1,596.2 1264.7,596.8 1264.7,600.6 1264.1,601.2 1252.0,608.0 1248.2,608.0 1247.6,607.4ZM1288.4,580.9 1289.0,580.3 1314.4,566.2 1318.2,566.2 1318.8,566.8 1318.8,570.6 1318.2,571.2 1292.8,585.3 1289.0,585.3 1288.4,584.7ZM1342.5,550.9 1343.1,550.3 1368.5,536.2 1372.3,536.2 1372.9,536.8 1372.9,540.6 1372.3,541.2 1346.9,555.3 1343.1,555.3 1342.5,554.7ZM1396.7,521.3 1397.3,520.7 1426.2,518.2 1430.0,518.2 1430.6,518.8 1430.6,522.6 1430.0,523.2 1401.1,525.7 1397.3,525.7 1396.7,525.1ZM1458.4,516.0 1459.0,515.4 1487.8,512.9 1491.6,512.9 1492.2,513.5 1492.2,517.3 1491.6,517.9 1462.8,520.4 1459.0,520.4 1458.4,519.8ZM1520.0,510.7 1520.6,510.1 1544.3,508.0 1548.1,508.0 1548.7,508.6 1548.7,512.4 1548.1,513.0 1524.4,515.1 1520.6,515.1 1520.0,514.5ZM1543.7,508.6 1544.3,508.0 1549.5,507.7 1553.3,507.7 1553.9,508.3 1553.9,512.1 1553.3,512.7 1548.1,513.0 1544.3,513.0 1543.7,512.4ZM1581.7,506.1 1582.3,505.5 1611.2,503.6 1615.0,503.6 1615.6,504.2 1615.6,508.0 1615.0,508.6 1586.1,510.5 1582.3,510.5 1581.7,509.9ZM1643.4,502.1 1644.0,501.5 1672.9,499.6 1676.7,499.6 1677.3,500.2 1677.3,504.0 1676.7,504.6 1647.8,506.5 1644.0,506.5 1643.4,505.9ZM1705.1,498.2 1705.7,497.6 1734.7,496.1 1738.5,496.1 1739.1,496.7 1739.1,500.5 1738.5,501.1 1709.5,502.6 1705.7,502.6 1705.1,502.0ZM1766.9,494.9 1767.5,494.3 1796.4,492.8 1800.2,492.8 1800.8,493.4 1800.8,497.2 1800.2,497.8 1771.3,499.3 1767.5,499.3 1766.9,498.7ZM1828.6,491.7 1829.2,491.1 1840.5,490.5 1844.3,490.5 1844.9,491.1 1844.9,494.9 1844.3,495.5 1833.0,496.1 1829.2,496.1 1828.6,495.5ZM1839.9,491.1 1840.5,490.5 1844.3,490.5 1862.0,491.3 1862.6,491.9 1862.6,495.7 1862.0,496.3 1858.2,496.3 1840.5,495.5 1839.9,494.9ZM1890.4,493.3 1891.0,492.7 1894.8,492.7 1923.8,493.9 1924.4,494.5 1924.4,498.3 1923.8,498.9 1920.0,498.9 1891.0,497.7 1890.4,497.1ZM1952.2,495.9 1952.8,495.3 1956.6,495.3 1985.6,496.5 1986.2,497.1 1986.2,500.9 1985.6,501.5 1981.8,501.5 1952.8,500.3 1952.2,499.7ZM2007.2,515.0 2007.8,514.4 2011.6,514.4 2033.0,534.0 2033.6,534.6 2033.6,538.4 2033.0,539.0 2029.2,539.0 2007.8,519.4 2007.2,518.8ZM2052.8,556.8 2053.4,556.2 2057.2,556.2 2078.5,575.8 2079.1,576.4 2079.1,580.2 2078.5,580.8 2074.7,580.8 2053.4,561.2 2052.8,560.6ZM2098.4,598.6 2099.0,598.0 2102.8,598.0 2124.1,617.6 2124.7,618.2 2124.7,622.0 2124.1,622.6 2120.3,622.6 2099.0,603.0 2098.4,602.4ZM2143.9,640.4 2144.5,639.8 2148.3,639.8 2169.7,659.4 2170.3,660.0 2170.3,663.8 2169.7,664.4 2165.9,664.4 2144.5,644.8 2143.9,644.2Z"/>
<path fill="#2d2dff" d="M211.0,619.1 230.5,598.5 231.1,597.9 234.9,597.9 235.5,598.5 235.5,602.3 216.0,622.9 215.4,623.5 211.6,623.5 211.0,622.9ZM253.1,574.6 273.0,553.5 273.6,552.9 277.4,552.9 278.0,553.5 278.0,557.3 258.1,578.4 257.5,579.0 253.7,579.0 253.1,578.4ZM295.6,529.7 315.5,508.6 316.1,508.0 319.9,508.0 320.5,508.6 320.5,512.4 300.6,533.5 300.0,534.1 296.2,534.1 295.6,533.5ZM338.1,484.7 358.0,463.6 358.6,463.0 362.4,463.0 363.0,463.6 363.0,467.4 343.1,488.5 342.5,489.1 338.7,489.1 338.1,488.5ZM389.4,454.7 390.0,454.1 418.0,446.8 421.8,446.8 422.4,447.4 422.4,451.2 421.8,451.8 393.8,459.1 390.0,459.1 389.4,458.5ZM449.2,439.2 449.8,438.6 477.9,431.3 481.7,431.3 482.3,431.9 482.3,435.7 481.7,436.3 453.6,443.6 449.8,443.6 449.2,443.0ZM509.2,423.9 509.8,423.3 538.3,418.3 542.1,418.3 542.7,418.9 542.7,422.7 542.1,423.3 513.6,428.3 509.8,428.3 509.2,427.7ZM570.1,413.2 570.7,412.6 599.3,407.7 603.1,407.7 603.7,408.3 603.7,412.1 603.1,412.7 574.5,417.6 570.7,417.6 570.1,417.0ZM631.0,402.6 631.6,402.0 655.8,397.8 659.6,397.8 660.2,398.4 660.2,402.2 659.6,402.8 635.4,407.0 631.6,407.0 631.0,406.4ZM655.2,398.4 655.8,397.8 660.2,397.1 664.0,397.1 664.6,397.7 664.6,401.5 664.0,402.1 659.6,402.8 655.8,402.8 655.2,402.2ZM692.0,392.4 692.6,391.8 721.2,387.1 725.0,387.1 725.6,387.7 725.6,391.5 725.0,392.1 696.4,396.8 692.6,396.8 692.0,396.2ZM753.0,382.4 753.6,381.8 782.3,377.1 786.1,377.1 786.7,377.7 786.7,381.5 786.1,382.1 757.4,386.8 753.6,386.8 753.0,386.2ZM814.2,374.7 814.8,374.1 818.6,374.1 847.6,375.7 848.2,376.3 848.2,380.1 847.6,380.7 843.8,380.7 814.8,379.1 814.2,378.5ZM876.0,378.2 876.6,377.6 880.4,377.6 909.3,379.2 909.9,379.8 909.9,383.6 909.3,384.2 905.5,384.2 876.6,382.6 876.0,382.0ZM937.7,381.6 938.3,381.0 942.1,381.0 955.8,381.8 956.4,382.4 956.4,386.2 955.8,386.8 952.0,386.8 938.3,386.0 937.7,385.4ZM951.4,382.4 952.0,381.8 955.8,381.8 968.7,390.0 969.3,390.6 969.3,394.4 968.7,395.0 964.9,395.0 952.0,386.8 951.4,386.2ZM992.0,408.2 992.6,407.6 996.4,407.6 1020.9,423.2 1021.5,423.8 1021.5,427.6 1020.9,428.2 1017.1,428.2 992.6,412.6 992.0,412.0ZM1044.2,441.4 1044.8,440.8 1048.6,440.8 1073.1,456.4 1073.7,457.0 1073.7,460.8 1073.1,461.4 1069.3,461.4 1044.8,445.8 1044.2,445.2ZM1096.4,474.6 1097.0,474.0 1100.8,474.0 1103.9,476.0 1104.5,476.6 1104.5,480.4 1103.9,481.0 1100.1,481.0 1097.0,479.0 1096.4,478.4ZM1099.5,476.6 1100.1,476.0 1103.9,476.0 1123.2,492.4 1123.8,493.0 1123.8,496.8 1123.2,497.4 1119.4,497.4 1100.1,481.0 1099.5,480.4ZM1143.8,514.3 1144.4,513.7 1148.2,513.7 1170.3,532.5 1170.9,533.1 1170.9,536.9 1170.3,537.5 1166.5,537.5 1144.4,518.7 1143.8,518.1ZM1190.9,554.4 1191.5,553.8 1195.3,553.8 1217.4,572.6 1218.0,573.2 1218.0,577.0 1217.4,577.6 1213.6,577.6 1191.5,558.8 1190.9,558.2ZM1238.0,594.5 1238.6,593.9 1242.4,593.9 1252.0,602.0 1252.6,602.6 1252.6,606.4 1252.0,607.0 1248.2,607.0 1238.6,598.9 1238.0,598.3ZM1247.6,602.6 1248.2,602.0 1262.7,594.3 1266.5,594.3 1267.1,594.9 1267.1,598.7 1266.5,599.3 1252.0,607.0 1248.2,607.0 1247.6,606.4ZM1291.1,579.5 1291.7,578.9 1317.3,565.3 1321.1,565.3 1321.7,565.9 1321.7,569.7 1321.1,570.3 1295.5,583.9 1291.7,583.9 1291.1,583.3ZM1345.8,550.5 1346.4,549.9 1372.0,536.4 1375.8,536.4 1376.4,537.0 1376.4,540.8 1375.8,541.4 1350.2,554.9 1346.4,554.9 1345.8,554.3ZM1401.0,523.6 1401.6,523.0 1430.5,520.5 1434.3,520.5 1434.9,521.1 1434.9,524.9 1434.3,525.5 1405.4,528.0 1401.6,528.0 1401.0,527.4ZM1462.6,518.2 1463.2,517.6 1492.1,515.1 1495.9,515.1 1496.5,515.7 1496.5,519.5 1495.9,520.1 1467.0,522.6 1463.2,522.6 1462.6,522.0ZM1524.2,512.8 1524.8,512.2 1544.3,510.5 1548.1,510.5 1548.7,511.1 1548.7,514.9 1548.1,515.5 1528.6,517.2 1524.8,517.2 1524.2,516.6ZM1543.7,511.1 1544.3,510.5 1553.7,509.8 1557.5,509.8 1558.1,510.4 1558.1,514.2 1557.5,514.8 1548.1,515.5 1544.3,515.5 1543.7,514.9ZM1585.9,507.9 1586.5,507.3 1615.4,505.2 1619.2,505.2 1619.8,505.8 1619.8,509.6 1619.2,510.2 1590.3,512.3 1586.5,512.3 1585.9,511.7ZM1647.6,503.3 1648.2,502.7 1677.1,500.5 1680.9,500.5 1681.5,501.1 1681.5,504.9 1680.9,505.5 1652.0,507.7 1648.2,507.7 1647.6,507.1ZM1709.3,499.4 1709.9,498.8 1738.9,497.8 1742.7,497.8 1743.3,498.4 1743.3,502.2 1742.7,502.8 1713.7,503.8 1709.9,503.8 1709.3,503.2ZM1771.1,497.3 1771.7,496.7 1800.7,495.7 1804.5,495.7 1805.1,496.3 1805.1,500.1 1804.5,500.7 1775.5,501.7 1771.7,501.7 1771.1,501.1ZM1832.9,495.2 1833.5,494.6 1840.5,494.4 1844.3,494.4 1844.9,495.0 1844.9,498.8 1844.3,499.4 1837.3,499.6 1833.5,499.6 1832.9,499.0ZM1839.9,495.0 1840.5,494.4 1844.3,494.4 1866.3,495.7 1866.9,496.3 1866.9,500.1 1866.3,500.7 1862.5,500.7 1840.5,499.4 1839.9,498.8ZM1894.7,498.2 1895.3,497.6 1899.1,497.6 1928.0,499.3 1928.6,499.9 1928.6,503.7 1928.0,504.3 1924.2,504.3 1895.3,502.6 1894.7,502.0ZM1956.4,501.8 1957.0,501.2 1960.8,501.2 1989.8,502.9 1990.4,503.5 1990.4,507.3 1989.8,507.9 1986.0,507.9 1957.0,506.2 1956.4,505.6ZM2009.6,524.7 2010.2,524.1 2014.0,524.1 2034.8,544.4 2035.4,545.0 2035.4,548.8 2034.8,549.4 2031.0,549.4 2010.2,529.1 2009.6,528.5ZM2053.9,567.9 2054.5,567.3 2058.3,567.3 2079.1,587.6 2079.7,588.2 2079.7,592.0 2079.1,592.6 2075.3,592.6 2054.5,572.3 2053.9,571.7ZM2098.2,611.1 2098.8,610.5 2102.6,610.5 2123.4,630.7 2124.0,631.3 2124.0,635.1 2123.4,635.7 2119.6,635.7 2098.8,615.5 2098.2,614.9ZM2142.5,654.3 2143.1,653.7 2146.9,653.7 2167.6,673.9 2168.2,674.5 2168.2,678.3 2167.6,678.9 2163.8,678.9 2143.1,658.7 2142.5,658.1Z"/>
<path fill="#00ffff" d="M211.0,627.4 230.3,606.6 230.9,606.0 234.7,606.0 235.3,606.6 235.3,610.4 216.0,631.2 215.4,631.8 211.6,631.8 211.0,631.2ZM252.7,582.5 272.4,561.3 273.0,560.7 276.8,560.7 277.4,561.3 277.4,565.1 257.7,586.3 257.1,586.9 253.3,586.9 252.7,586.3ZM294.8,537.2 314.6,516.0 315.2,515.4 319.0,515.4 319.6,516.0 319.6,519.8 299.8,541.0 299.2,541.6 295.4,541.6 294.8,541.0ZM336.9,491.9 356.7,470.7 357.3,470.1 361.1,470.1 361.7,470.7 361.7,474.5 341.9,495.7 341.3,496.3 337.5,496.3 336.9,495.7ZM387.5,461.0 388.1,460.4 416.2,453.3 420.0,453.3 420.6,453.9 420.6,457.7 420.0,458.3 391.9,465.4 388.1,465.4 387.5,464.8ZM447.5,445.9 448.1,445.3 476.2,438.3 480.0,438.3 480.6,438.9 480.6,442.7 480.0,443.3 451.9,450.3 448.1,450.3 447.5,449.7ZM507.5,430.9 508.1,430.3 536.5,424.7 540.3,424.7 540.9,425.3 540.9,429.1 540.3,429.7 511.9,435.3 508.1,435.3 507.5,434.7ZM568.2,418.9 568.8,418.3 597.2,412.7 601.0,412.7 601.6,413.3 601.6,417.1 601.0,417.7 572.6,423.3 568.8,423.3 568.2,422.7ZM628.8,406.9 629.4,406.3 655.8,401.1 659.6,401.1 660.2,401.7 660.2,405.5 659.6,406.1 633.2,411.3 629.4,411.3 628.8,410.7ZM655.2,401.7 655.8,401.1 657.9,400.7 661.7,400.7 662.3,401.3 662.3,405.1 661.7,405.7 659.6,406.1 655.8,406.1 655.2,405.5ZM689.4,394.5 690.0,393.9 718.4,387.8 722.2,387.8 722.8,388.4 722.8,392.2 722.2,392.8 693.8,398.9 690.0,398.9 689.4,398.3ZM749.9,381.6 750.5,381.0 778.9,375.0 782.7,375.0 783.3,375.6 783.3,379.4 782.7,380.0 754.3,386.0 750.5,386.0 749.9,385.4ZM810.6,370.4 811.2,369.8 815.0,369.8 844.0,370.2 844.6,370.8 844.6,374.6 844.0,375.2 840.2,375.2 811.2,374.8 810.6,374.2ZM872.4,371.2 873.0,370.6 876.8,370.6 905.8,371.0 906.4,371.6 906.4,375.4 905.8,376.0 902.0,376.0 873.0,375.6 872.4,375.0ZM934.3,372.1 934.9,371.5 938.7,371.5 955.8,371.7 956.4,372.3 956.4,376.1 955.8,376.7 952.0,376.7 934.9,376.5 934.3,375.9ZM951.4,372.3 952.0,371.7 955.8,371.7 966.8,376.2 967.4,376.8 967.4,380.6 966.8,381.2 963.0,381.2 952.0,376.7 951.4,376.1ZM992.8,389.2 993.4,388.6 997.2,388.6 1024.1,399.6 1024.7,400.2 1024.7,404.0 1024.1,404.6 1020.3,404.6 993.4,393.6 992.8,393.0ZM1050.1,412.6 1050.7,412.0 1054.5,412.0 1081.3,423.0 1081.9,423.6 1081.9,427.4 1081.3,428.0 1077.5,428.0 1050.7,417.0 1050.1,416.4ZM1105.3,439.0 1105.9,438.4 1109.7,438.4 1110.3,439.0 1130.2,460.0 1130.2,463.8 1129.6,464.4 1125.8,464.4 1125.2,463.8 1105.3,442.8ZM1147.8,483.9 1148.4,483.3 1152.2,483.3 1152.8,483.9 1172.7,505.0 1172.7,508.8 1172.1,509.4 1168.3,509.4 1167.7,508.8 1147.8,487.7ZM1190.3,528.8 1190.9,528.2 1194.7,528.2 1195.3,528.8 1215.2,549.9 1215.2,553.7 1214.6,554.3 1210.8,554.3 1210.2,553.7 1190.3,532.6ZM1232.8,573.8 1233.4,573.2 1237.2,573.2 1237.8,573.8 1252.6,589.4 1252.6,593.2 1252.0,593.8 1248.2,593.8 1247.6,593.2 1232.8,577.6ZM1247.6,589.4 1248.2,588.8 1255.3,586.5 1259.1,586.5 1259.7,587.1 1259.7,590.9 1259.1,591.5 1252.0,593.8 1248.2,593.8 1247.6,593.2ZM1285.9,576.9 1286.5,576.3 1314.1,567.3 1317.9,567.3 1318.5,567.9 1318.5,571.7 1317.9,572.3 1290.3,581.3 1286.5,581.3 1285.9,580.7ZM1344.7,557.7 1345.3,557.1 1372.9,548.0 1376.7,548.0 1377.3,548.6 1377.3,552.4 1376.7,553.0 1349.1,562.1 1345.3,562.1 1344.7,561.5ZM1403.7,539.4 1404.3,538.8 1432.8,533.4 1436.6,533.4 1437.2,534.0 1437.2,537.8 1436.6,538.4 1408.1,543.8 1404.3,543.8 1403.7,543.2ZM1464.5,527.8 1465.1,527.2 1493.6,521.7 1497.4,521.7 1498.0,522.3 1498.0,526.1 1497.4,526.7 1468.9,532.2 1465.1,532.2 1464.5,531.6ZM1525.2,516.1 1525.8,515.5 1544.3,512.0 1548.1,512.0 1548.7,512.6 1548.7,516.4 1548.1,517.0 1529.6,520.5 1525.8,520.5 1525.2,519.9ZM1543.7,512.6 1544.3,512.0 1554.5,511.4 1558.3,511.4 1558.9,512.0 1558.9,515.8 1558.3,516.4 1548.1,517.0 1544.3,517.0 1543.7,516.4ZM1586.7,510.3 1587.3,509.7 1616.2,508.1 1620.0,508.1 1620.6,508.7 1620.6,512.5 1620.0,513.1 1591.1,514.7 1587.3,514.7 1586.7,514.1ZM1648.4,506.9 1649.0,506.3 1678.0,504.7 1681.8,504.7 1682.4,505.3 1682.4,509.1 1681.8,509.7 1652.8,511.3 1649.0,511.3 1648.4,510.7ZM1710.2,504.0 1710.8,503.4 1739.8,502.7 1743.6,502.7 1744.2,503.3 1744.2,507.1 1743.6,507.7 1714.6,508.4 1710.8,508.4 1710.2,507.8ZM1772.0,502.4 1772.6,501.8 1801.6,501.1 1805.4,501.1 1806.0,501.7 1806.0,505.5 1805.4,506.1 1776.4,506.8 1772.6,506.8 1772.0,506.2ZM1833.9,500.9 1834.5,500.3 1840.5,500.1 1844.3,500.1 1844.9,500.7 1844.9,504.5 1844.3,505.1 1838.3,505.3 1834.5,505.3 1833.9,504.7ZM1839.9,500.7 1840.5,500.1 1844.3,500.1 1867.2,501.2 1867.8,501.8 1867.8,505.6 1867.2,506.2 1863.4,506.2 1840.5,505.1 1839.9,504.5ZM1895.7,503.5 1896.3,502.9 1900.1,502.9 1929.0,504.3 1929.6,504.9 1929.6,508.7 1929.0,509.3 1925.2,509.3 1896.3,507.9 1895.7,507.3ZM1957.4,506.6 1958.0,506.0 1961.8,506.0 1990.8,507.4 1991.4,508.0 1991.4,511.8 1990.8,512.4 1987.0,512.4 1958.0,511.0 1957.4,510.4ZM2010.5,529.8 2011.1,529.2 2014.9,529.2 2035.8,549.3 2036.4,549.9 2036.4,553.7 2035.8,554.3 2032.0,554.3 2011.1,534.2 2010.5,533.6ZM2055.1,572.7 2055.7,572.1 2059.5,572.1 2080.4,592.2 2081.0,592.8 2081.0,596.6 2080.4,597.2 2076.6,597.2 2055.7,577.1 2055.1,576.5ZM2099.7,615.5 2100.3,614.9 2104.1,614.9 2125.0,635.0 2125.6,635.6 2125.6,639.4 2125.0,640.0 2121.2,640.0 2100.3,619.9 2099.7,619.3ZM2144.3,658.4 2144.9,657.8 2148.7,657.8 2169.6,677.9 2170.2,678.5 2170.2,682.3 2169.6,682.9 2165.8,682.9 2144.9,662.8 2144.3,662.2Z"/>
</g>
<g stroke="#000" stroke-width="5" fill="none" shape-rendering="crispEdges">
<line x1="213.5" y1="59" x2="213.5" y2="1228"/>
<line x1="211" y1="1225.5" x2="2178" y2="1225.5"/>
<line x1="213.5" y1="1142.4" x2="235.5" y2="1142.4"/>
<line x1="213.5" y1="1059.2" x2="262.5" y2="1059.2"/>
<line x1="213.5" y1="976.1" x2="235.5" y2="976.1"/>
<line x1="213.5" y1="892.9" x2="262.5" y2="892.9"/>
<line x1="213.5" y1="809.8" x2="235.5" y2="809.8"/>
<line x1="213.5" y1="726.7" x2="262.5" y2="726.7"/>
<line x1="213.5" y1="643.5" x2="235.5" y2="643.5"/>
<line x1="213.5" y1="560.4" x2="262.5" y2="560.4"/>
<line x1="213.5" y1="477.2" x2="235.5" y2="477.2"/>
<line x1="213.5" y1="394.1" x2="262.5" y2="394.1"/>
<line x1="213.5" y1="311.0" x2="235.5" y2="311.0"/>
<line x1="213.5" y1="227.8" x2="262.5" y2="227.8"/>
<line x1="213.5" y1="144.7" x2="235.5" y2="144.7"/>
<line x1="213.5" y1="61.5" x2="262.5" y2="61.5"/>
<line x1="398.6" y1="1225.5" x2="398.6" y2="1204.5"/>
<line x1="583.7" y1="1225.5" x2="583.7" y2="1177"/>
<line x1="768.8" y1="1225.5" x2="768.8" y2="1204.5"/>
<line x1="953.9" y1="1225.5" x2="953.9" y2="1177"/>
<line x1="1139.0" y1="1225.5" x2="1139.0" y2="1204.5"/>
<line x1="1324.1" y1="1225.5" x2="1324.1" y2="1177"/>
<line x1="1509.2" y1="1225.5" x2="1509.2" y2="1204.5"/>
<line x1="1694.3" y1="1225.5" x2="1694.3" y2="1177"/>
<line x1="1879.4" y1="1225.5" x2="1879.4" y2="1204.5"/>
<line x1="2064.5" y1="1225.5" x2="2064.5" y2="1177"/>
</g>
<g filter="url(#bw)">
<text transform="translate(192.5,1251.5) scale(0.95,1)" font-size="79" text-anchor="end">-2</text>
<text transform="translate(192.5,1085.2) scale(0.95,1)" font-size="79" text-anchor="end">0</text>
<text transform="translate(192.5,918.9) scale(0.95,1)" font-size="79" text-anchor="end">2</text>
<text transform="translate(192.5,752.7) scale(0.95,1)" font-size="79" text-anchor="end">4</text>
<text transform="translate(192.5,586.4) scale(0.95,1)" font-size="79" text-anchor="end">6</text>
<text transform="translate(192.5,420.1) scale(0.95,1)" font-size="79" text-anchor="end">8</text>
<text transform="translate(192.5,253.8) scale(0.95,1)" font-size="79" text-anchor="end">10</text>
<text transform="translate(192.5,87.5) scale(0.95,1)" font-size="79" text-anchor="end">12</text>
<text transform="translate(214.0,1317.2) scale(0.99,1)" font-size="79" text-anchor="middle">20</text>
<text transform="translate(584.2,1317.2) scale(0.99,1)" font-size="79" text-anchor="middle">30</text>
<text transform="translate(954.4,1317.2) scale(0.99,1)" font-size="79" text-anchor="middle">40</text>
<text transform="translate(1324.6,1317.2) scale(0.99,1)" font-size="79" text-anchor="middle">50</text>
<text transform="translate(1694.8,1317.2) scale(0.99,1)" font-size="79" text-anchor="middle">60</text>
<text transform="translate(2065.0,1317.2) scale(0.99,1)" font-size="79" text-anchor="middle">70</text>
<text transform="translate(1075.5,1395.0) scale(1.0,1)" font-size="78" text-anchor="start" xml:space="preserve">r  (mm)</text>
<text transform="translate(84,0) rotate(-90)" font-size="61.4" xml:space="preserve" x="-669.8 -630 -598 -585 -565.7 -515.5 -498.1 -478 -460" y="-1 0 0 0 0 0 0 0 0"><tspan font-style="italic" font-size="73">w</tspan> ( m/s )</text>
<g stroke="#000" stroke-width="5" fill="none" shape-rendering="crispEdges">
<line x1="481" y1="97.5" x2="697" y2="97.5"/>
<line x1="481" y1="193" x2="697" y2="193" stroke-width="4" stroke-dasharray="22 16.92"/>
</g>
<text transform="translate(707.5,117.0) scale(0.974,1)" font-size="68" text-anchor="start">lpI-0.5</text>
<text transform="translate(707.5,202.0) scale(0.974,1)" font-size="68" text-anchor="start">lsI-0.5</text>
</g>
</svg>
</body></html>
